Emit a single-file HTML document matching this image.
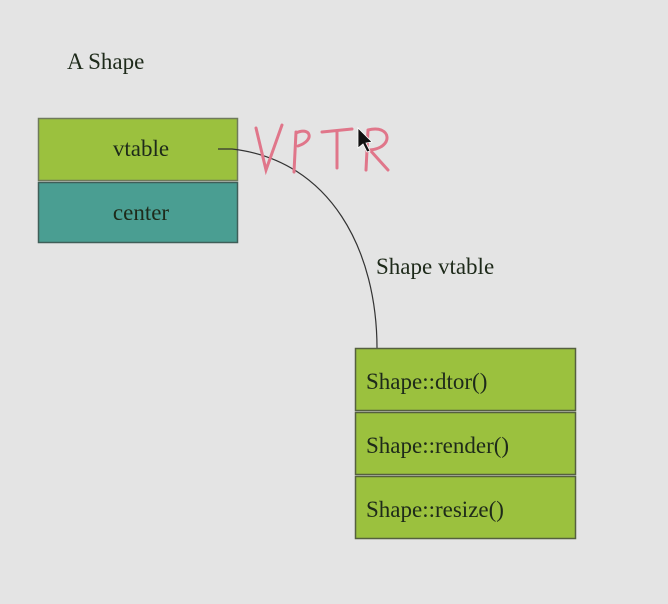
<!DOCTYPE html>
<html><head><style>
html,body{margin:0;padding:0;background:#e4e4e4;}
svg{display:block;}
</style></head><body>
<svg width="668" height="604" viewBox="0 0 668 604" xmlns="http://www.w3.org/2000/svg">
<rect width="668" height="604" fill="#e4e4e4"/>
<g font-family="'Liberation Serif', 'DejaVu Serif', serif" fill="#1e2a1a" font-size="23">
<text x="67" y="69" style="font-family:'Liberation Serif',serif">A Shape</text>
</g>
<rect x="38.5" y="118.5" width="199" height="62" fill="#9bc13e" stroke="#6f7a5a" stroke-width="1.5"/>
<rect x="38.5" y="182.5" width="199" height="60" fill="#4a9e92" stroke="#3f5e58" stroke-width="1.5"/>
<g font-family="'Liberation Serif', serif" fill="#1e2a1a" font-size="23" style="font-family:'Liberation Serif',serif">
<text x="141" y="156" text-anchor="middle">vtable</text>
<text x="141" y="220" text-anchor="middle">center</text>
<text x="376" y="274">Shape vtable</text>
</g>
<path d="M218 149 L232 149 C330 160 378 250 377 352" fill="none" stroke="#333" stroke-width="1.2"/>
<rect x="355.5" y="348.5" width="220" height="62" fill="#9bc13e" stroke="#55603f" stroke-width="1.5"/>
<rect x="355.5" y="412.5" width="220" height="62" fill="#9bc13e" stroke="#55603f" stroke-width="1.5"/>
<rect x="355.5" y="476.5" width="220" height="62" fill="#9bc13e" stroke="#55603f" stroke-width="1.5"/>
<g font-family="'Liberation Serif', serif" fill="#1e2a1a" font-size="23" style="font-family:'Liberation Serif',serif">
<text x="366" y="389">Shape::dtor()</text>
<text x="366" y="453">Shape::render()</text>
<text x="366" y="517">Shape::resize()</text>
</g>
<g fill="none" stroke="#e0768a" stroke-width="3" stroke-linecap="round">
<path d="M256 128 L266 170 L282 125"/>
<path d="M296 132 L294 172 M296 133 C310 126 316 140 298 146"/>
<path d="M322 132 L352 129 M337 131 L337 168"/>
<path d="M368 130 L366 170 M368 130 C392 124 394 148 370 150 L388 170"/>
</g>
<path d="M358 128 L358 148 L363 144 L367 152 L370 151 L366 143 L372 142 Z" fill="#111" stroke="#fff" stroke-width="0.8"/>
</svg>
</body></html>
